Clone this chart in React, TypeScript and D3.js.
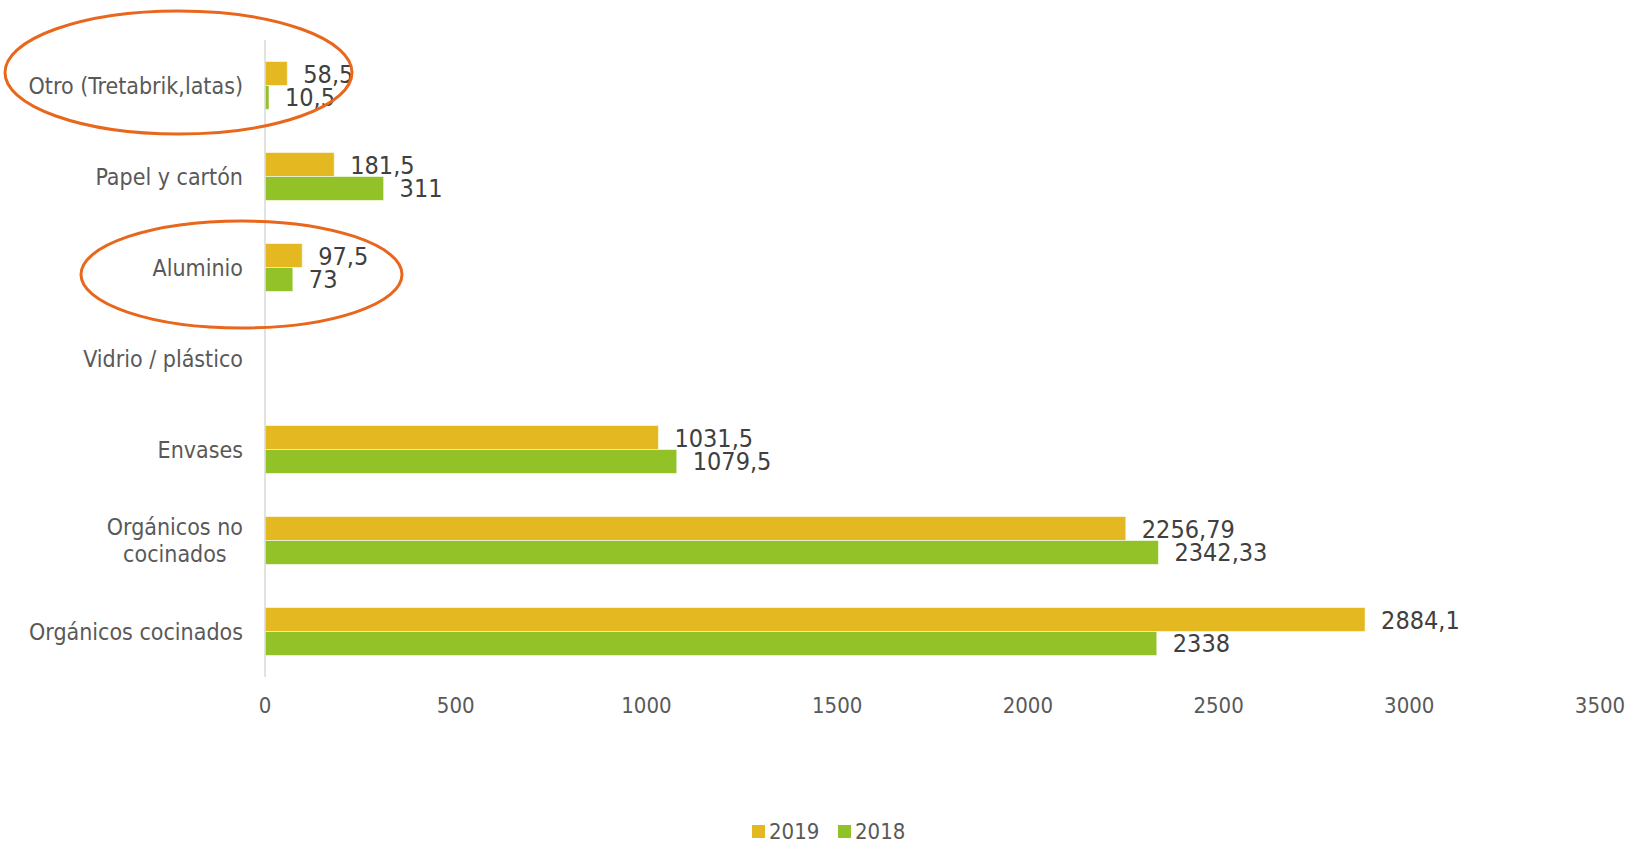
import { useEffect, useRef } from 'react';
import * as d3 from 'd3';

// categories top to bottom
const categories = [
  'Otro (Tretabrik,latas)',
  'Papel y cartón',
  'Aluminio',
  'Vidrio / plástico',
  'Envases',
  'Orgánicos no cocinados',
  'Orgánicos cocinados',
];
// wrapped label lines for the category axis
const categoryLines: string[][] = [
  ['Otro (Tretabrik,latas)'],
  ['Papel y cartón'],
  ['Aluminio'],
  ['Vidrio / plástico'],
  ['Envases'],
  ['Orgánicos no', 'cocinados'],
  ['Orgánicos cocinados'],
];
const series = ['2019', '2018'];
const values2019: (number | null)[] = [58.5, 181.5, 97.5, null, 1031.5, 2256.79, 2884.1];
const values2018: (number | null)[] = [10.5, 311, 73, null, 1079.5, 2342.33, 2338];
const xTicks = [0, 500, 1000, 1500, 2000, 2500, 3000, 3500];
const highlighted = ['Otro (Tretabrik,latas)', 'Aluminio'];

const colors: Record<string, string> = { '2019': '#E4B820', '2018': '#92C227' };
const FONT = '"Liberation Sans Narrow", "DejaVu Sans Condensed", "DejaVu Sans", sans-serif';

export default function App() {
  const svgRef = useRef<SVGSVGElement>(null);

  useEffect(() => {
    if (!svgRef.current) return;
    document.body.style.margin = '0';

    const width = 1637;
    const height = 843;

    const svg = d3.select(svgRef.current);
    svg.selectAll('*').remove();
    svg.attr('width', width).attr('height', height).style('font-family', FONT);

    const x = d3.scaleLinear().domain([0, 3500]).range([265, 1600]);
    const y = d3
      .scaleBand<string>()
      .domain(categories)
      .range([40, 677])
      .paddingInner(0.473)
      .paddingOuter(0.2365);
    const ySub = d3.scaleBand<string>().domain(series).range([0, y.bandwidth()]);

    const rows = categories.map((c, i) => ({
      cat: c,
      vals: [
        { s: '2019', v: values2019[i] },
        { s: '2018', v: values2018[i] },
      ],
    }));

    // bars
    const groups = svg
      .append('g')
      .selectAll('g')
      .data(rows)
      .join('g')
      .attr('transform', (d) => `translate(0,${y(d.cat)})`);

    groups
      .selectAll('rect')
      .data((d) => d.vals.filter((v) => v.v != null))
      .join('rect')
      .attr('x', x(0))
      .attr('y', (d) => ySub(d.s)!)
      .attr('width', (d) => x(d.v as number) - x(0))
      .attr('height', ySub.bandwidth())
      .attr('fill', (d) => colors[d.s])
      .attr('stroke', 'rgba(255,255,255,0.55)')
      .attr('stroke-width', 1);

    // value labels
    groups
      .selectAll('text')
      .data((d) => d.vals.filter((v) => v.v != null))
      .join('text')
      .attr('x', (d) => x(d.v as number) + 16)
      .attr('y', (d) => ySub(d.s)! + ySub.bandwidth() / 2)
      .attr('dy', '0.36em')
      .attr('font-size', 25)
      .attr('fill', '#404040')
      .text((d) => String(d.v).replace('.', ','));

    // vertical axis line
    svg
      .append('line')
      .attr('x1', x(0))
      .attr('x2', x(0))
      .attr('y1', 40)
      .attr('y2', 677)
      .attr('stroke', '#d9d9d9')
      .attr('stroke-width', 1.5);

    // x tick labels
    svg
      .append('g')
      .selectAll('text')
      .data(xTicks)
      .join('text')
      .attr('x', (d) => x(d))
      .attr('y', 705)
      .attr('dy', '0.36em')
      .attr('text-anchor', 'middle')
      .attr('font-size', 22)
      .attr('fill', '#595959')
      .text((d) => String(d));

    // category labels (multi-line labels centred on each other, block right-aligned)
    const labelRight = 243;
    const lineH = 27;
    categories.forEach((c, i) => {
      const lines = categoryLines[i];
      const cy = y(c)! + y.bandwidth() / 2;
      const t = svg
        .append('text')
        .attr('font-size', 23)
        .attr('fill', '#595959')
        .attr('text-anchor', 'middle');
      const spans = lines.map((ln, k) =>
        t
          .append('tspan')
          .attr('y', cy + (k - (lines.length - 1) / 2) * lineH)
          .attr('dy', '0.36em')
          .text(ln)
      );
      const widths = spans.map((s) => (s.node() as SVGTSpanElement).getComputedTextLength());
      const maxW = d3.max(widths) || 0;
      spans.forEach((s) => s.attr('x', labelRight - maxW / 2));
    });

    // highlight ellipses around selected categories
    const ellipseSpecs: Record<string, { cx: number; dy: number; rx: number; ry: number }> = {
      'Otro (Tretabrik,latas)': { cx: 178.5, dy: -13, rx: 173.5, ry: 61.5 },
      Aluminio: { cx: 241.5, dy: 7, rx: 160.5, ry: 53.5 },
    };
    svg
      .append('g')
      .selectAll('ellipse')
      .data(highlighted)
      .join('ellipse')
      .attr('cx', (d) => ellipseSpecs[d].cx)
      .attr('cy', (d) => y(d)! + y.bandwidth() / 2 + ellipseSpecs[d].dy)
      .attr('rx', (d) => ellipseSpecs[d].rx)
      .attr('ry', (d) => ellipseSpecs[d].ry)
      .attr('fill', 'none')
      .attr('stroke', '#E8671C')
      .attr('stroke-width', 3);

    // legend
    const legend = svg
      .append('g')
      .selectAll('g')
      .data(series)
      .join('g')
      .attr('transform', (_, i) => `translate(${752 + i * 86},825)`);
    legend
      .append('rect')
      .attr('width', 13)
      .attr('height', 13)
      .attr('fill', (d) => colors[d]);
    legend
      .append('text')
      .attr('x', 17)
      .attr('y', 6.5)
      .attr('dy', '0.36em')
      .attr('font-size', 22)
      .attr('fill', '#595959')
      .text((d) => d);
  }, []);

  return <svg ref={svgRef} style={{ display: 'block' }}></svg>;
}
